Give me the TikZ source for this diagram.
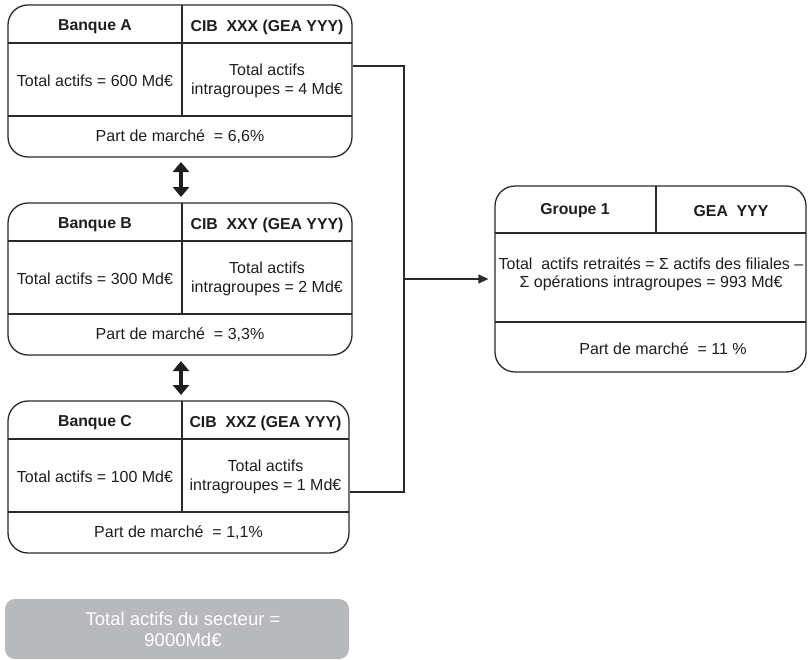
\documentclass[tikz,border=0pt]{standalone}
\usepackage{fontspec}
\setmainfont{Liberation Sans}
\usetikzlibrary{arrows.meta}
\definecolor{lc}{HTML}{2A2A2A}
\definecolor{tc}{HTML}{1E1E1E}
\definecolor{greybox}{HTML}{B8B9BC}
\newcommand\mybank[9]{%
  % #1 name, #2 top y, #3 right x, #4 title, #5 cib, #6 total, #7 intra, #8 part, #9 unused
  \node[bank, minimum width={#3-8}, minimum height=152pt] (#1) at ({(8+#3)/2},{#2+76}) {};
  \draw[div] (8,{#2+38}) -- (#3,{#2+38});
  \draw[div] (8,{#2+111}) -- (#3,{#2+111});
  \draw[div] (182,#2) -- (182,{#2+111});
  \node[hd] (#1-t) at (95,{#2+22}) {#4};
  \node[hd] (#1-c) at ({(182+#3)/2},{#2+22}) {#5};
  \node[tx] (#1-a) at (95,{#2+76}) {#6};
  \node[tx] (#1-i) at ({(182+#3)/2},{#2+76}) {Total actifs\\#7};
  \node[tx] (#1-p) at ({(8+#3)/2},{#2+132}) {#8};
}
\begin{document}
\begin{tikzpicture}[x=1pt,y=-1pt,
  bank/.style={draw=lc, line width=1.3pt, rounded corners=20pt, inner sep=0pt},
  div/.style={draw=lc, line width=1.3pt},
  hd/.style={font=\fontsize{15.8}{18}\selectfont\bfseries, text=tc, inner sep=0pt},
  tx/.style={font=\fontsize{16}{19}\selectfont, text=tc, inner sep=0pt, align=center},
  conn/.style={draw=lc, line width=1.3pt},
  dbl/.style={draw=tc, line width=4.5pt, {Triangle[width=16pt,length=10pt]}-{Triangle[width=16pt,length=10pt]}},
]
\useasboundingbox (0,0) rectangle (808,659);

\mybank{A}{5}{352}{Banque A}{CIB\ \ XXX (GEA YYY)}{Total actifs = 600 Md€}{intragroupes = 4 Md€}{Part de marché\ \ = 6,6\%}{}
\mybank{B}{203}{352}{Banque B}{CIB\ \ XXY (GEA YYY)}{Total actifs = 300 Md€}{intragroupes = 2 Md€}{Part de marché\ \ = 3,3\%}{}
\mybank{C}{401}{349}{Banque C}{CIB\ \ XXZ (GEA YYY)}{Total actifs = 100 Md€}{intragroupes = 1 Md€}{Part de marché\ \ = 1,1\%}{}

% double arrows
\draw[dbl] (181,162) -- (181,197);
\draw[dbl] (181,361) -- (181,395);

% group box
\node[bank, minimum width=311pt, minimum height=186pt] (G) at (650.5,279) {};
\draw[div] (495,233) -- (806,233);
\draw[div] (495,322) -- (806,322);
\draw[div] (656,186) -- (656,233);
\node[hd] (G-t) at (575,211) {Groupe 1};
\node[hd] (G-c) at (731,211) {GEA\ \ YYY};
\node[tx, font=\fontsize{16}{18}\selectfont] (G-a) at (651,274) {Total\ \ actifs retraités = Σ actifs des filiales –\\Σ opérations intragroupes = 993 Md€};
\node[tx] (G-p) at (663,349) {Part de marché\ \ = 11 \%};

% connector
\coordinate (J1) at (404,66);
\coordinate (J2) at (404,492);
\coordinate (J3) at (404,279);
\draw[conn] (A.east |- J1) -- (J1) -- (J2) -- (C.east |- J2);
\draw[conn, -{Triangle[width=9pt,length=10pt]}] (J3) -- ([xshift=-6pt]G.west);

% sector total
\node[fill=greybox, rounded corners=10pt, minimum width=344pt, minimum height=60pt, inner sep=0pt] (S) at (177,629) {};
\node[font=\fontsize{18.5}{21}\selectfont, text=white, align=center, inner sep=0pt] (S-t) at (183,629) {Total actifs du secteur =\\9000Md€};
\end{tikzpicture}
\end{document}
